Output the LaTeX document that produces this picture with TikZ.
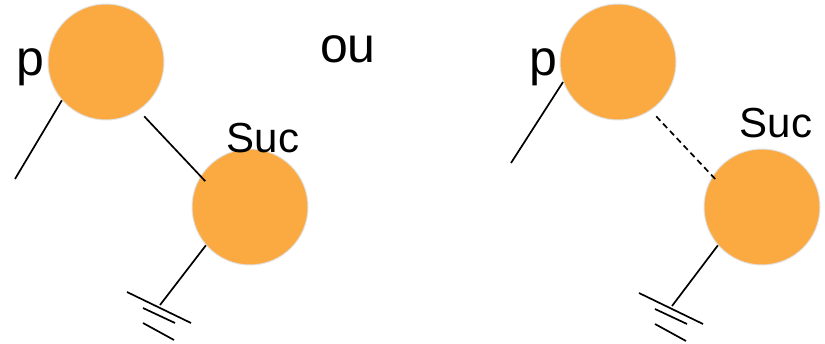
\documentclass[tikz,border=0pt]{standalone}
\usepackage{fontspec}
\setmainfont{Liberation Sans}
\usetikzlibrary{calc}
\definecolor{noeud}{HTML}{FBA941}
\definecolor{bord}{HTML}{E2E2E2}
\begin{document}
\begin{tikzpicture}[x=1pt,y=-1pt]
\tikzstyle{nd}= [circle,draw=bord,line width=1pt,fill=noeud,minimum size=116pt,inner sep=0pt]
\tikzstyle{arc}= [line width=1.7pt]
\tikzstyle{lien}= [arc,shorten <=8pt,shorten >=-7pt]
\tikzstyle{lbl}= [anchor=base,inner sep=0pt,font=\fontsize{50}{60}\selectfont]
\tikzstyle{lbls}= [anchor=base,inner sep=0pt,font=\fontsize{42}{50}\selectfont]
\useasboundingbox (0,0) rectangle (825,343);

% gauche
\path
	(106, 62) node[nd] (p1) {}
	(250,207) node[nd] (s1) {}
;
\coordinate (f1) at (15,179);
\coordinate (g1) at (160,305);
\draw[arc] (p1.221) -- (f1);
\draw[lien] (p1.-56) -- (s1.148);
\draw[arc] (s1.221) -- (g1);
\node[lbl] (lp1) at (30.5,75) {p};
\node[lbls] (ls1) at (263,152) {Suc};

\node[lbl] (ou) at (348,62) {ou};

% droite
\path
	(618, 62) node[nd] (p2) {}
	(762,207) node[nd] (s2) {}
;
\coordinate (f2) at (511,163);
\coordinate (g2) at (672,306);
\draw[arc] (p2.200) -- (f2);
\draw[lien,dash pattern=on 6pt off 4pt] (p2.-56) -- (s2.148);
\draw[arc] (s2.221) -- (g2);
\node[lbl] (lp2) at (543,75) {p};
\node[lbls] (ls2) at (776,137) {Suc};

% masses
\foreach \g in {g1,g2} {
	\draw[arc] ($(\g)+(-33,-13)$) -- ($(\g)+(31,18)$);
	\draw[arc] ($(\g)+(-17,3)$) -- ($(\g)+(15,18)$);
	\draw[arc] ($(\g)+(-17,18)$) -- ($(\g)+(14,35)$);
}
\end{tikzpicture}
\end{document}
